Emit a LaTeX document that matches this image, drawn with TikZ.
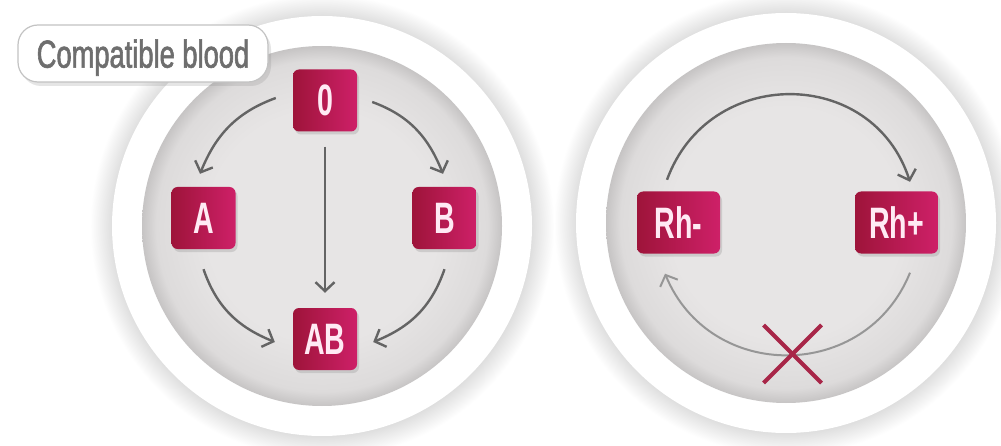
\documentclass[tikz,border=0pt]{standalone}
\usepackage{fontspec}
\newfontfamily\condfont[FakeStretch=0.7,FakeBold=1.5]{Liberation Sans}
\newfontfamily\boxfont[FakeStretch=0.65]{Liberation Sans Bold}
\usetikzlibrary{arrows.meta,shadows,calc}

\definecolor{crimL}{RGB}{158,20,58}
\definecolor{crimR}{RGB}{206,32,104}
\definecolor{boxtext}{RGB}{255,234,244}
\definecolor{arrowdark}{RGB}{100,100,100}
\definecolor{arrowlight}{RGB}{150,150,150}
\definecolor{crossred}{RGB}{168,38,72}
\definecolor{labeltext}{RGB}{110,110,110}
\definecolor{labelborder}{RGB}{195,195,195}
\definecolor{diskC}{RGB}{231,229,229}
\definecolor{diskM}{RGB}{221,219,219}
\definecolor{diskE}{RGB}{198,196,196}
\definecolor{haloC}{RGB}{214,214,214}

\pgfdeclareradialshading{disk}{\pgfpoint{0bp}{0bp}}{color(0bp)=(diskC); color(16bp)=(diskC); color(23bp)=(diskM); color(25bp)=(diskE); color(50bp)=(diskE)}
\pgfdeclareradialshading{halo}{\pgfpoint{0bp}{0bp}}{color(0bp)=(haloC); color(22bp)=(haloC); color(25bp)=(white); color(50bp)=(white)}

\tikzset{
  bloodbox/.style={rectangle, rounded corners=6pt, minimum width=64pt, minimum height=62pt,
    inner sep=0pt, left color=crimL, right color=crimR, text=boxtext,
    font=\boxfont\fontsize{44}{44}\selectfont, text depth=0pt,
    drop shadow={opacity=0.25, shadow xshift=2pt, shadow yshift=-3pt}},
  labelbox/.style={rectangle, rounded corners=20pt, minimum width=250pt, minimum height=57pt,
    inner sep=0pt, draw=labelborder, line width=1.2pt, fill=white, text=labeltext,
    font=\condfont\fontsize{39}{39}\selectfont, text depth=0pt,
    drop shadow={opacity=0.2, shadow xshift=3pt, shadow yshift=-4pt}},
  conn/.style={draw=arrowdark, line width=2.4pt, -{Straight Barb[length=9pt,width=19pt]}},
  connlight/.style={draw=arrowlight, line width=2pt, -{Straight Barb[length=9pt,width=19pt]}},
  crossline/.style={draw=crossred, line width=4pt},
}

\begin{document}
\begin{tikzpicture}[x=1pt,y=1pt]
\useasboundingbox (0,0) rectangle (1001,445);
\clip (0,0) rectangle (1001,445);
\fill[white] (0,0) rectangle (1001,445);

% left disk
\shade[shading=halo] (322,219) circle (232);
\fill[white] (322,219) circle (210);
\shade[shading=disk] (322,219) circle (180);
% right disk
\shade[shading=halo] (786,222) circle (232);
\fill[white] (786,222) circle (210);
\shade[shading=disk] (786,222) circle (180);

\node[labelbox] (lbl) at (143,391.5) {Compatible blood};

\node[bloodbox] (o) at (325,344.5) {0};
\node[bloodbox] (a) at (203.5,227) {A};
\node[bloodbox] (b) at (444.5,227) {B};
\node[bloodbox] (ab) at (325,106) {AB};
\node[bloodbox, minimum width=83pt] (rhm) at (678.5,222.5) {Rh-};
\node[bloodbox, minimum width=83pt] (rhp) at (896.5,222.5) {Rh+};

\draw[conn] ([shift={(-17,2.5)}]o.west) to[out=200,in=68] ([shift={(-3.5,13)}]a.north);
\draw[conn] ([shift={(15,-1.5)}]o.east) to[out=-20,in=112] ([shift={(-1.5,13)}]b.north);
\draw[conn] ([yshift=-15pt]o.south) -- ([yshift=15pt]ab.north);
\draw[conn] ([yshift=-20pt]a.south) to[out=289,in=158] ([shift={(-18,-3)}]ab.west);
\draw[conn] ([yshift=-20pt]b.south) to[out=251,in=22] ([shift={(16,-3)}]ab.east);

\draw[conn] ([shift={(-11.5,11.5)}]rhm.north) to[out=70,in=108,looseness=1.28] ([shift={(13.5,9.5)}]rhp.north);
\draw[connlight] ([shift={(13.5,-19)}]rhp.south) to[out=248,in=292.5,looseness=1.23] ([shift={(-13.5,-20)}]rhm.south);

\coordinate (xc) at (792.5,91);
\draw[crossline] ([shift={(-29,29)}]xc) -- ([shift={(29,-29)}]xc);
\draw[crossline] ([shift={(-29,-29)}]xc) -- ([shift={(29,29)}]xc);
\end{tikzpicture}
\end{document}
